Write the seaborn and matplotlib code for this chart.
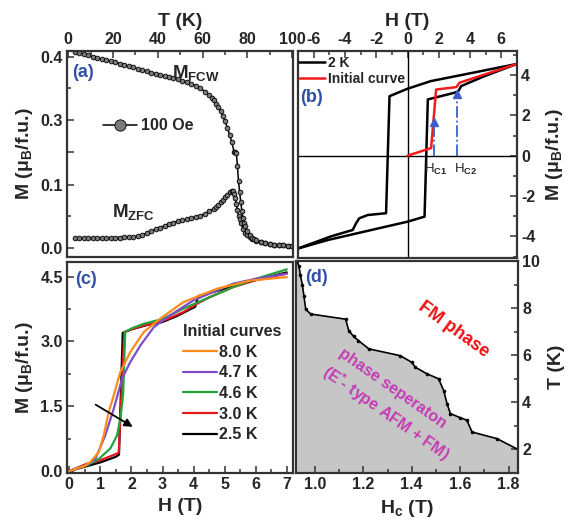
import numpy as np
import matplotlib
matplotlib.use("Agg")
import matplotlib.pyplot as plt
import seaborn as sns
from matplotlib.ticker import FixedLocator, FixedFormatter, MultipleLocator, FormatStrFormatter

# ---------------- data ----------------
# (a) M vs T at 100 Oe
T_fcw = [3, 5, 7, 9, 11, 13, 15, 17, 19, 21, 23, 25, 27, 29, 31, 33, 35, 37, 39, 41, 43, 45,
         47, 49, 51, 53, 55, 57, 59, 61, 63, 64, 65, 66, 67, 68, 69, 70, 71, 72, 73, 74, 74.5,
         75, 75.5, 76, 76.5, 77, 77.5, 78, 78.5, 79, 80, 81, 82, 83, 84, 86, 88, 90, 92, 94,
         96, 98, 100]
M_fcw = [0.408, 0.406, 0.404, 0.402, 0.400, 0.398, 0.396, 0.395, 0.393, 0.391, 0.389, 0.387,
         0.385, 0.383, 0.381, 0.379, 0.377, 0.375, 0.373, 0.371, 0.369, 0.368, 0.366, 0.364,
         0.362, 0.360, 0.357, 0.354, 0.350, 0.345, 0.339, 0.335, 0.331, 0.326, 0.320, 0.314,
         0.306, 0.298, 0.288, 0.277, 0.265, 0.250, 0.220, 0.170, 0.130, 0.105, 0.088, 0.072,
         0.058, 0.047, 0.040, 0.034, 0.026, 0.020, 0.016, 0.014, 0.012, 0.009, 0.007, 0.006,
         0.005, 0.0045, 0.004, 0.0035, 0.003]
T_zfc = [3, 5, 7, 9, 11, 13, 15, 17, 19, 21, 23, 25, 27, 29, 31, 33, 35, 37, 39, 41, 43, 45,
         47, 49, 51, 53, 55, 57, 59, 61, 63, 65, 66, 67, 68, 69, 70, 71, 72, 73, 73.5, 74,
         74.5, 75, 75.5, 76, 76.5, 77, 78, 79, 80, 81, 82, 84, 86, 88, 90, 92, 94, 96, 98, 100]
M_zfc = [0.0155, 0.0155, 0.0155, 0.0155, 0.0155, 0.0155, 0.0157, 0.0158, 0.016, 0.0161,
         0.0163, 0.0165, 0.017, 0.0175, 0.018, 0.020, 0.023, 0.026, 0.029, 0.032, 0.035,
         0.038, 0.040, 0.042, 0.044, 0.045, 0.047, 0.049, 0.051, 0.054, 0.058, 0.062, 0.065,
         0.068, 0.072, 0.076, 0.080, 0.084, 0.088, 0.090, 0.089, 0.085, 0.078, 0.070, 0.060,
         0.050, 0.045, 0.040, 0.030, 0.024, 0.020, 0.017, 0.014, 0.011, 0.009, 0.007, 0.006,
         0.005, 0.0045, 0.004, 0.0035, 0.003]

# (b) hysteresis loop at 2 K and initial curve
H_down = [7.0, 3.65, 1.5, 0.0, -1.15, -1.37, -2.54, -3.08, -3.29, -3.5, -4.9, -7.0]
M_down = [4.55, 4.03, 3.70, 3.32, 2.95, -2.85, -2.94, -3.10, -3.35, -3.68, -4.0, -4.6]
H_up = [-7.0, -5.1, 0.0, 1.09, 1.3, 3.0, 3.25, 3.43, 4.94, 7.0]
M_up = [-4.6, -4.18, -3.27, -3.02, 2.79, 3.12, 3.2, 3.45, 3.95, 4.55]
H_init = [0.0, 1.51, 1.83, 3.12, 3.33, 7.0]
M_init = [0.0, 0.38, 3.28, 3.40, 3.62, 4.55]
H_c1, H_c2 = 1.69, 3.18

# (c) initial curves at several temperatures
temps = ["8.0 K", "4.7 K", "4.6 K", "3.0 K", "2.5 K"]
H_80 = [0, 0.5, 0.68, 0.95, 1.11, 1.27, 1.43, 1.64, 1.96, 2.40, 2.93, 3.67, 4.75, 5.82, 7.0]
M_80 = [0, 0.12, 0.21, 0.44, 0.83, 1.37, 1.75, 2.29, 2.75, 3.22, 3.53, 3.91, 4.22, 4.41, 4.49]
H_47 = [0, 0.6, 0.84, 1.16, 1.43, 1.70, 1.96, 2.29, 2.72, 3.15, 3.99, 5.28, 6.0, 7.0]
M_47 = [0, 0.15, 0.28, 0.83, 1.44, 2.14, 2.52, 2.91, 3.33, 3.56, 3.95, 4.34, 4.45, 4.57]
H_46 = [0, 0.6, 0.95, 1.32, 1.54, 1.64, 1.73, 1.80, 2.0, 2.4, 3.0, 3.67, 4.21, 5.28, 6.0, 7.0]
M_46 = [0, 0.14, 0.28, 0.52, 0.83, 1.21, 1.75, 3.22, 3.3, 3.41, 3.52, 3.76, 3.93, 4.26, 4.45, 4.67]
H_30 = [0, 0.57, 1.0, 1.59, 1.64, 1.77, 2.0, 2.4, 3.0, 3.67, 4.1, 4.5, 5.28, 6.0, 7.0]
M_30 = [0, 0.17, 0.25, 0.42, 1.2, 3.22, 3.28, 3.37, 3.47, 3.68, 3.87, 4.02, 4.26, 4.42, 4.57]
H_25 = [0, 0.5, 1.0, 1.5, 1.6, 1.72, 2.0, 2.5, 3.0, 3.5, 3.9, 4.05, 4.15, 4.5, 5.0, 6.0, 7.0]
M_25 = [0, 0.1, 0.2, 0.33, 0.38, 3.2, 3.28, 3.38, 3.45, 3.6, 3.75, 3.8, 4.05, 4.12, 4.22, 4.42, 4.6]

# (d) phase boundary
Hc_b = [0.925, 0.934, 0.94, 0.948, 0.955, 0.962, 0.982, 1.127, 1.14, 1.16, 1.18, 1.223, 1.353,
        1.40, 1.415, 1.463, 1.511, 1.532, 1.546, 1.56, 1.60, 1.628, 1.649, 1.752, 1.839]
T_b = [10.0, 9.79, 9.4, 9.0, 8.5, 7.96, 7.75, 7.53, 7.04, 6.8, 6.62, 6.27, 5.98,
       5.7, 5.49, 5.21, 5.0, 4.5, 3.94, 3.52, 3.35, 3.24, 2.74, 2.46, 2.0]

# ---------------- style ----------------
sns.set_theme(style="ticks")
plt.rcParams["font.family"] = ["Liberation Sans", "DejaVu Sans"]
plt.rcParams["font.weight"] = "bold"
plt.rcParams["axes.labelweight"] = "bold"
plt.rcParams["axes.unicode_minus"] = False
plt.rcParams["mathtext.fontset"] = "custom"
plt.rcParams["mathtext.rm"] = "Liberation Sans"
plt.rcParams["mathtext.it"] = "Liberation Sans:italic"
plt.rcParams["mathtext.bf"] = "Liberation Sans:bold"

BLUE = "#2f4fa8"
W, H = 569, 525
fig = plt.figure(figsize=(W / 100, H / 100), dpi=100)


def rect(l, t, r, b):
    return [l / W, 1 - b / H, (r - l) / W, (b - t) / H]


axa = fig.add_axes(rect(67, 51, 293, 257))
axb = fig.add_axes(rect(298, 51, 517, 258))
axc = fig.add_axes(rect(67, 262, 293, 473))
axd = fig.add_axes(rect(296, 261, 518, 473))

TL = 11.5
LBL = 14
for ax in (axa, axb, axc, axd):
    for s in ax.spines.values():
        s.set_color("#333333")
        s.set_linewidth(1.6)
    ax.tick_params(which="both", direction="in", width=1.1, labelsize=TL, pad=3, color="#333333")
    ax.tick_params(which="major", length=5)
    ax.tick_params(which="minor", length=3)

ylab = "M (μ$_\\mathbf{B}$/f.u.)"

# ---------------- (a) ----------------
EPS = 0.002


def fwd(y):
    y = np.asarray(y, float)
    return np.where(y < 0.15, y, np.where(y > 0.25, y - 0.1 + EPS, 0.15 + (y - 0.15) * EPS / 0.1))


def inv(v):
    v = np.asarray(v, float)
    return np.where(v < 0.15, v, np.where(v > 0.15 + EPS, v + 0.1 - EPS, 0.15 + (v - 0.15) * 0.1 / EPS))


axa.set_yscale("function", functions=(fwd, inv))
mk = dict(marker="o", markersize=3.4, markerfacecolor="#7a7a7a", markeredgecolor="black",
          markeredgewidth=0.6, color="black", linewidth=1.1)
sns.lineplot(x=T_zfc, y=M_zfc, ax=axa, sort=False, estimator=None, legend=False, **mk)
sns.lineplot(x=T_fcw, y=M_fcw, ax=axa, sort=False, estimator=None, legend=False, label="100 Oe", **mk)
axa.set_xlim(-0.5, 100.3)
axa.set_ylim(-0.0145, 0.409)
axa.yaxis.set_major_locator(FixedLocator([0.0, 0.1, 0.2, 0.3, 0.4]))
axa.yaxis.set_major_formatter(FixedFormatter(["0.0", "0.1", "", "0.3", "0.4"]))
axa.yaxis.set_minor_locator(FixedLocator([0.05, 0.35]))
axa.xaxis.set_major_locator(MultipleLocator(20))
axa.xaxis.set_minor_locator(MultipleLocator(10))
axa.xaxis.tick_top()
axa.xaxis.set_label_position("top")
axa.set_xlabel("T (K)", fontsize=LBL, labelpad=4)
axa.set_ylabel(ylab, fontsize=LBL, labelpad=4)
axa.legend(loc="center left", bbox_to_anchor=(0.16, 0.636), frameon=False, markerscale=2.4,
           handlelength=2.1, handletextpad=0.3, borderpad=0, borderaxespad=0, fontsize=11.5)
axa.text(0.465, 0.869, "M$_\\mathbf{FCW}$", transform=axa.transAxes, fontsize=13.5,
         fontweight="bold", va="baseline", ha="left")
axa.text(0.199, 0.194, "M$_\\mathbf{ZFC}$", transform=axa.transAxes, fontsize=13.5,
         fontweight="bold", va="baseline", ha="left")
axa.text(0.022, 0.898, "(a)", transform=axa.transAxes, fontsize=13, fontweight="bold",
         color=BLUE, va="center", ha="left")

# ---------------- (b) ----------------
axb.axhline(0, color="black", lw=1.0, zorder=1)
axb.axvline(0, color="black", lw=1.0, zorder=1)
sns.lineplot(x=H_down, y=M_down, ax=axb, sort=False, estimator=None, color="black", lw=1.8,
             legend=False, label="2 K")
sns.lineplot(x=H_up, y=M_up, ax=axb, sort=False, estimator=None, color="black", lw=1.8, legend=False)
sns.lineplot(x=H_init, y=M_init, ax=axb, sort=False, estimator=None, color="#ee1c1c", lw=1.8,
             legend=False, label="Initial curve")
for hc, top in ((H_c1, 1.95), (H_c2, 3.35)):
    axb.plot([hc, hc], [0, top - 0.3], color="#3c5fd0", lw=1.3, ls="-.")
    axb.plot([hc], [top - 0.3], marker="^", color="#3c5fd0", markersize=6)
axb.text(1.05, -0.3, "H$_\\mathrm{C1}$", fontsize=9.5, fontweight="normal", va="top", ha="left")
axb.text(2.95, -0.3, "H$_\\mathrm{C2}$", fontsize=9.5, fontweight="normal", va="top", ha="left")
axb.set_xlim(-7, 7)
axb.set_ylim(-5.07, 5.19)
axb.xaxis.set_major_locator(MultipleLocator(2))
axb.xaxis.set_minor_locator(MultipleLocator(1))
axb.yaxis.set_major_locator(MultipleLocator(2))
axb.yaxis.set_minor_locator(MultipleLocator(1))
axb.xaxis.tick_top()
axb.xaxis.set_label_position("top")
axb.yaxis.tick_right()
axb.yaxis.set_label_position("right")
axb.set_xlabel("H (T)", fontsize=LBL, labelpad=4)
axb.set_ylabel(ylab, fontsize=LBL, labelpad=6)
axb.legend(loc="upper left", bbox_to_anchor=(0.005, 0.975), frameon=False, handlelength=1.9,
           handletextpad=0.2, borderpad=0, borderaxespad=0, labelspacing=0.15, fontsize=10)
axb.text(0.01, 0.775, "(b)", transform=axb.transAxes, fontsize=13, fontweight="bold",
         color=BLUE, va="center", ha="left")

# ---------------- (c) ----------------
curves = {"2.5 K": (H_25, M_25, "black"),
          "3.0 K": (H_30, M_30, "#e8141c"),
          "4.6 K": (H_46, M_46, "#23a13a"),
          "4.7 K": (H_47, M_47, "#7a4fc8"),
          "8.0 K": (H_80, M_80, "#ff8c1a")}
handles = {}
for lab, (hx, my, col) in curves.items():
    sns.lineplot(x=hx, y=my, ax=axc, sort=False, estimator=None, color=col, lw=1.6,
                 legend=False, label=lab)
    handles[lab] = axc.get_lines()[-1]
axc.annotate("", xy=(2.12, 0.99), xytext=(0.77, 1.57),
             arrowprops=dict(arrowstyle="-|>", color="black", lw=1.3, mutation_scale=12))
axc.set_xlim(-0.074, 7.2)
axc.set_ylim(-0.046, 4.84)
axc.xaxis.set_major_locator(MultipleLocator(1))
axc.xaxis.set_minor_locator(MultipleLocator(0.5))
axc.yaxis.set_major_locator(MultipleLocator(1.5))
axc.yaxis.set_minor_locator(MultipleLocator(0.75))
axc.yaxis.set_major_formatter(FormatStrFormatter("%.1f"))
axc.set_xlabel("H (T)", fontsize=LBL, labelpad=4)
axc.set_ylabel(ylab, fontsize=LBL, labelpad=4)
leg = axc.legend([handles[t] for t in temps], temps, title="Initial curves", loc="upper left",
                 bbox_to_anchor=(0.515, 0.705), frameon=False, handlelength=2.1,
                 handletextpad=0.15, borderpad=0, borderaxespad=0, labelspacing=0.35,
                 fontsize=11.5, title_fontproperties={"size": 11.5, "weight": "bold"})
leg._legend_box.align = "left"
axc.text(0.035, 0.915, "(c)", transform=axc.transAxes, fontsize=13, fontweight="bold",
         color=BLUE, va="center", ha="left")

# ---------------- (d) ----------------
axd.fill_between(Hc_b, T_b, 1.0, color="#c6c6c6", lw=0, zorder=0)
sns.lineplot(x=Hc_b, y=T_b, ax=axd, sort=False, estimator=None, color="black", lw=1.2,
             marker="o", markersize=2.6, markeredgewidth=0, legend=False)
axd.set_xlim(0.922, 1.839)
axd.set_ylim(1.0, 10.0)
axd.xaxis.set_major_locator(MultipleLocator(0.2))
axd.xaxis.set_minor_locator(MultipleLocator(0.1))
axd.xaxis.set_major_formatter(FormatStrFormatter("%.1f"))
axd.yaxis.set_major_locator(MultipleLocator(2))
axd.yaxis.set_minor_locator(MultipleLocator(1))
axd.yaxis.tick_right()
axd.yaxis.set_label_position("right")
axd.set_xlabel("H$_\\mathbf{c}$ (T)", fontsize=LBL, labelpad=4)
axd.set_ylabel("T (K)", fontsize=LBL, labelpad=6)
axd.text(1.573, 7.09, "FM phase", color="#ee1111", fontsize=13, fontweight="bold",
         rotation=-36, rotation_mode="anchor", ha="center", va="center")
axd.text(1.319, 4.58, "phase seperaton", color="#c43cb4", fontsize=11.5, fontweight="bold",
         rotation=-35, rotation_mode="anchor", ha="center", va="center")
axd.text(1.292, 3.52, "(E$^\\mathbf{*}$- type AFM + FM)", color="#c43cb4", fontsize=11.5,
         fontweight="bold", rotation=-35, rotation_mode="anchor", ha="center", va="center")
axd.text(0.04, 0.92, "(d)", transform=axd.transAxes, fontsize=13, fontweight="bold",
         color=BLUE, va="center", ha="left")

fig.savefig("out.png", dpi=100)
